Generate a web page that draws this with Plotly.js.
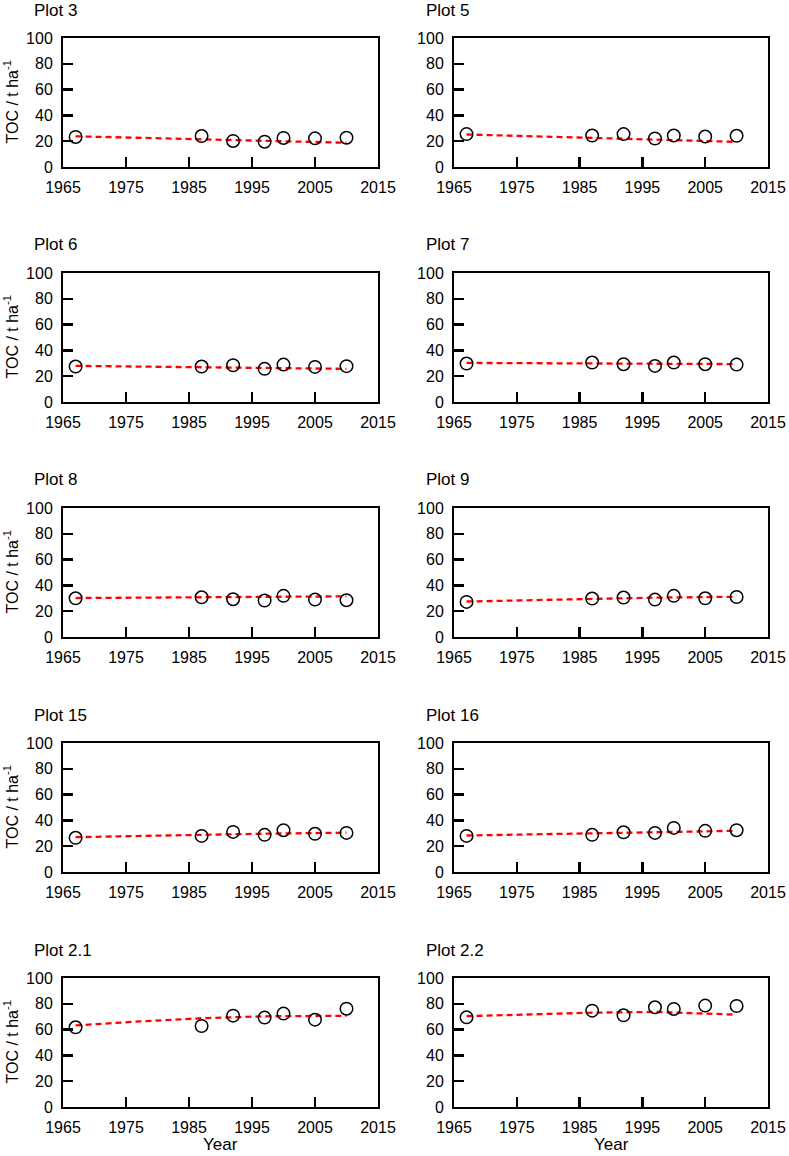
<!DOCTYPE html>
<html>
<head>
<meta charset="utf-8">
<script src="https://cdn.plot.ly/plotly-3.0.1.min.js"></script>
<style>html,body{margin:0;padding:0;background:#fff;}#chart{width:789px;height:1156px;}</style>
</head>
<body>
<div id="chart"></div>
<script>
// ---- data ----
const years = [1967, 1987, 1992, 1997, 2000, 2005, 2010];
const trendYears = [1967, 1977, 1987, 1997, 2010];
const panelTitles = ["Plot 3", "Plot 5", "Plot 6", "Plot 7", "Plot 8", "Plot 9", "Plot 15", "Plot 16", "Plot 2.1", "Plot 2.2"];

const plot3 = [23.3, 24.0, 20.2, 19.6, 22.5, 22.2, 22.7];
const plot5 = [25.5, 24.4, 25.5, 22.1, 24.4, 23.6, 24.2];
const plot6 = [27.5, 27.5, 28.5, 25.7, 29.0, 27.2, 27.8];
const plot7 = [29.8, 30.6, 29.3, 28.0, 30.6, 29.3, 29.0];
const plot8 = [30.0, 30.8, 29.3, 28.3, 31.9, 29.0, 28.5];
const plot9 = [27.2, 29.8, 30.6, 29.0, 31.9, 30.0, 31.0];
const plot15 = [26.5, 28.0, 31.1, 28.8, 32.4, 29.6, 30.3];
const plot16 = [28.0, 28.8, 30.8, 30.3, 34.2, 31.9, 32.4];
const plot2_1 = [61.8, 62.8, 70.8, 69.3, 72.4, 67.7, 76.2];
const plot2_2 = [69.5, 74.7, 71.1, 77.3, 76.0, 78.6, 78.3];

const trend3 = [23.8, 22.6, 21.3, 20.1, 18.8];
const trend5 = [25.2, 23.9, 22.5, 21.0, 19.5];
const trend6 = [28.0, 27.5, 27.0, 26.5, 25.7];
const trend7 = [30.3, 30.2, 30.0, 29.8, 29.4];
const trend8 = [30.2, 30.6, 31.0, 31.2, 31.5];
const trend9 = [27.5, 28.7, 29.8, 30.5, 31.2];
const trend15 = [27.0, 28.0, 29.0, 29.7, 30.5];
const trend16 = [28.3, 29.0, 29.8, 30.8, 32.0];
const trend2_1 = [63.2, 66.3, 68.8, 70.3, 70.7];
const trend2_2 = [70.4, 71.9, 73.1, 73.7, 71.6];

const xTicks = [1965, 1975, 1985, 1995, 2005, 2015];
const yTicks = [0, 20, 40, 60, 80, 100];
const xTitle = "Year";
const yTitle = "TOC / t ha<sup>-1</sup>";

const seriesList = [plot3, plot5, plot6, plot7, plot8, plot9, plot15, plot16, plot2_1, plot2_2];
const trendList = [trend3, trend5, trend6, trend7, trend8, trend9, trend15, trend16, trend2_1, trend2_2];

// ---- layout geometry ----
const W = 789, H = 1156;
const colX = [[63, 378], [454, 768]];
const rowTop = [38, 273, 508, 743, 978];
const plotH = 129;
const FONT = "Liberation Sans, Arial, sans-serif";

const traces = [];
const layout = {
  width: W, height: H,
  margin: {l: 0, r: 0, t: 0, b: 0},
  paper_bgcolor: "#ffffff", plot_bgcolor: "#ffffff",
  showlegend: false,
  font: {family: FONT, size: 16, color: "#000"},
  annotations: []
};

for (let i = 0; i < 10; i++) {
  const r = Math.floor(i / 2), c = i % 2;
  const n = i + 1;
  const xa = n === 1 ? "x" : "x" + n;
  const ya = n === 1 ? "y" : "y" + n;
  traces.push({
    x: trendYears, y: trendList[i], xaxis: xa, yaxis: ya,
    mode: "lines", type: "scatter",
    line: {color: "#ff0000", width: 2.3, dash: "6px,4px"},
    hoverinfo: "skip"
  });
  traces.push({
    x: years, y: seriesList[i], xaxis: xa, yaxis: ya,
    mode: "markers", type: "scatter",
    marker: {symbol: "circle-open", size: 12.5, color: "#000", line: {width: 1.5, color: "#000"}}
  });
  const top = rowTop[r], bot = rowTop[r] + plotH;
  const common = {
    showline: true, mirror: true, linecolor: "#000", linewidth: 2,
    ticks: "inside", ticklen: 10, tickwidth: 2.5, tickcolor: "#000",
    showgrid: false, zeroline: false, fixedrange: true,
    tickfont: {family: FONT, size: 16, color: "#000"}
  };
  layout["xaxis" + (n === 1 ? "" : n)] = Object.assign({}, common, {
    domain: [colX[c][0] / W, colX[c][1] / W],
    anchor: ya, range: [1965, 2015], tickvals: xTicks, ticktext: xTicks.map(String),
    ticklabelstandoff: 5
  });
  layout["yaxis" + (n === 1 ? "" : n)] = Object.assign({}, common, {
    domain: [1 - bot / H, 1 - top / H],
    anchor: xa, range: [0, 100], tickvals: yTicks, ticktext: yTicks.map(String),
    ticklabelstandoff: 5
  });
  layout.annotations.push({
    text: panelTitles[i], xref: "paper", yref: "paper",
    x: (c === 0 ? 32 : 424) / W, xanchor: "left",
    y: 1 - (top - 28) / H, yanchor: "middle",
    showarrow: false, font: {family: FONT, size: 17, color: "#000"}
  });
  if (c === 0) {
    layout.annotations.push({
      text: yTitle, xref: "paper", yref: "paper", textangle: -90,
      x: 11 / W, xanchor: "center", y: 1 - (top + plotH / 2) / H, yanchor: "middle",
      showarrow: false, font: {family: FONT, size: 16, color: "#000"}
    });
  }
  if (r === 4) {
    layout.annotations.push({
      text: xTitle, xref: "paper", yref: "paper",
      x: (colX[c][0] + colX[c][1]) / 2 / W, xanchor: "center", y: 1 - 1144 / H, yanchor: "middle",
      borderpad: 0,
      showarrow: false, font: {family: FONT, size: 17, color: "#000"}
    });
  }
}

Plotly.newPlot("chart", traces, layout, {displayModeBar: false, staticPlot: true});
</script>
</body>
</html>
